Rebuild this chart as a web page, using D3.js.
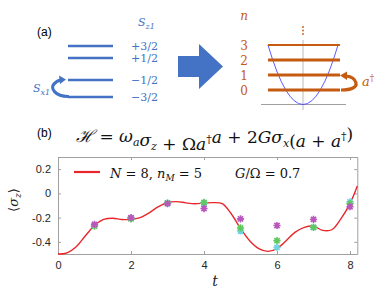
<!DOCTYPE html>
<html>
<head>
<meta charset="utf-8">
<script src="https://d3js.org/d3.v7.min.js"></script>
<style>
body, html { margin: 0; padding: 0; background: #fff; font-family: Arial, "Liberation Sans", sans-serif; }
.ax path, .ax line { stroke: #a0a0a0; stroke-width: 1; }
.ax text { fill: #262626; font-size: 11px; font-family: Arial, "Liberation Sans", sans-serif; }
.math { font-family: "DejaVu Serif", "Liberation Serif", serif; }
</style>
</head>
<body>
<div id="chart"></div>
<script>
// panel (b) data
var curveT = [0, 0.25, 0.5, 0.75, 1, 1.25, 1.5, 1.75, 2, 2.25, 2.5, 2.75, 3, 3.25, 3.5, 3.75, 4, 4.25, 4.5, 4.75, 5, 5.25, 5.5, 5.75, 6, 6.25, 6.5, 6.75, 7, 7.25, 7.5, 7.75, 8, 8.2];
var curveV = [-0.5, -0.49, -0.44, -0.35, -0.265, -0.215, -0.205, -0.215, -0.215, -0.2, -0.16, -0.11, -0.075, -0.068, -0.078, -0.085, -0.08, -0.076, -0.085, -0.17, -0.29, -0.39, -0.455, -0.478, -0.455, -0.39, -0.32, -0.28, -0.27, -0.305, -0.3, -0.21, -0.085, 0.06];
var markT = [1, 2, 3, 4, 5, 6, 7, 8];
var greenV = [-0.27, -0.21, -0.08, -0.075, -0.285, -0.39, -0.28, -0.085];
var cyanV = [-0.265, -0.205, -0.08, -0.08, -0.31, -0.445, -0.28, -0.07];
var magentaV = [-0.255, -0.2, -0.085, -0.125, -0.21, -0.265, -0.215, -0.11];
var xTicks = [0, 2, 4, 6, 8];
var yTicks = [-0.4, -0.2, 0, 0.2];

// panel (a) labels
var spinLevels = [1.5, 0.5, -0.5, -1.5];
var spinLabels = ["+3/2", "+1/2", "\u22121/2", "\u22123/2"];
var bosonLevels = [0, 1, 2, 3];

var width = 390, height = 299;
var svg = d3.select('#chart').append('svg')
  .attr('width', width)
  .attr('height', height);

var blue = '#4472c4', orange = '#c55a11';

// ---------- panel (a) ----------
svg.append('text').attr('x', 37).attr('y', 36).style('font-size', '12px').text('(a)');

var ySpin = d3.scaleLinear().domain([-1.5, -0.5, 0.5, 1.5]).range([97, 80, 58, 46]);
svg.selectAll('line.spin').data(spinLevels).enter().append('line')
  .attr('class', 'spin')
  .attr('x1', 68).attr('x2', 113)
  .attr('y1', function(d) { return ySpin(d); })
  .attr('y2', function(d) { return ySpin(d); })
  .attr('stroke', blue).attr('stroke-width', 2.3);
svg.selectAll('text.spin').data(spinLevels).enter().append('text')
  .attr('class', 'spin math')
  .attr('x', 131)
  .attr('y', function(d) { return ySpin(d) + 4; })
  .attr('fill', blue).style('font-size', '11px')
  .text(function(d, i) { return spinLabels[i]; });

var sz = svg.append('text').attr('class', 'math').attr('x', 138).attr('y', 26)
  .attr('fill', blue).style('font-size', '11px').style('font-style', 'italic');
sz.append('tspan').text('S');
sz.append('tspan').attr('dy', 3).style('font-size', '8px').text('z1');

var sx = svg.append('text').attr('class', 'math').attr('x', 33).attr('y', 92)
  .attr('fill', blue).style('font-size', '11px').style('font-style', 'italic');
sx.append('tspan').text('S');
sx.append('tspan').attr('dy', 3).style('font-size', '8px').text('x1');

// curved spin-flip arrow
svg.append('path').attr('d', 'M69,96.5 C55,97 50,88 54,84 C56,81.5 58,80.5 61,80')
  .attr('fill', 'none').attr('stroke', blue).attr('stroke-width', 3.2);
svg.append('path').attr('d', 'M66,79.5 L59,75.5 L60,84 Z').attr('fill', blue);

// big block arrow
svg.append('path').attr('d', 'M178,56 L199,56 L199,44 L223,66.5 L199,89 L199,77 L178,77 Z')
  .attr('fill', blue);

// boson ladder
var yLev = d3.scaleLinear().domain([0, 3]).range([90, 45]);
svg.append('line').attr('x1', 303).attr('x2', 303).attr('y1', 40).attr('y2', 110)
  .attr('stroke', '#aaa').attr('stroke-width', 0.8);
svg.append('line').attr('x1', 261).attr('x2', 346).attr('y1', 104.5).attr('y2', 104.5)
  .attr('stroke', '#888').attr('stroke-width', 0.8);
svg.append('path').attr('d', 'M268,45 Q303,164 338,45')
  .attr('fill', 'none').attr('stroke', '#4a4aff').attr('stroke-width', 0.9);
svg.selectAll('line.lev').data(bosonLevels).enter().append('line')
  .attr('class', 'lev')
  .attr('x1', 268).attr('x2', 340)
  .attr('y1', function(d) { return yLev(d); })
  .attr('y2', function(d) { return yLev(d); })
  .attr('stroke', orange).attr('stroke-width', function(d) { return d === 3 ? 2 : 2.8; });
svg.selectAll('text.lev').data(bosonLevels).enter().append('text')
  .attr('class', 'lev math')
  .attr('x', 244).attr('text-anchor', 'middle')
  .attr('y', function(d) { return yLev(d) + 4.5; })
  .attr('fill', orange).style('font-size', '12px')
  .text(function(d) { return d; });
svg.append('text').attr('class', 'math').attr('x', 244).attr('y', 20).attr('text-anchor', 'middle')
  .attr('fill', orange).style('font-size', '12px').style('font-style', 'italic').text('n');
svg.selectAll('circle.dots').data([0, 1, 2]).enter().append('circle')
  .attr('cx', 303).attr('cy', function(d) { return 27 + d * 3.5; }).attr('r', 0.9)
  .attr('fill', orange);

// a-dagger arrow
svg.append('path').attr('d', 'M341,90 C352,90 357,87 356,83 C355,79 351,76.5 346,76')
  .attr('fill', 'none').attr('stroke', orange).attr('stroke-width', 3.2);
svg.append('path').attr('d', 'M340,75.5 L347,71.5 L347,80 Z').attr('fill', orange);
var ad = svg.append('text').attr('class', 'math').attr('x', 362).attr('y', 86)
  .attr('fill', orange).style('font-size', '13px').style('font-style', 'italic');
ad.append('tspan').text('a');
ad.append('tspan').attr('dy', -5).style('font-size', '9px').style('font-style', 'normal').text('\u2020');

// ---------- panel (b) ----------
svg.append('text').attr('x', 37).attr('y', 137).style('font-size', '12px').text('(b)');

var title = svg.append('text').attr('class', 'math').attr('x', 76).attr('y', 142)
  .style('font-size', '17px').attr('fill', '#111');
function part(txt, it) { return title.append('tspan').style('font-style', it ? 'italic' : 'normal').text(txt); }
function sub(txt) { title.append('tspan').attr('dy', 4).style('font-size', '11px').style('font-style', 'italic').text(txt); title.append('tspan').attr('dy', -4).text(''); }
function sup(txt) { title.append('tspan').attr('dy', -7).style('font-size', '11px').text(txt); title.append('tspan').attr('dy', 7).text(''); }
part('\u210B', true); part(' = ', false); part('\u03C9', true); sub('a'); part('\u03C3', true); sub('z');
part(' + \u03A9', false); part('a', true); sup('\u2020'); part('a', true);
part(' + 2', false); part('G\u03C3', true); sub('x'); part('(', false); part('a', true);
part(' + ', false); part('a', true); sup('\u2020'); part(')', false);

var x = d3.scaleLinear().domain([0, 8.2]).range([58, 357.3]);
var y = d3.scaleLinear().domain([-0.5, 0.3]).range([254, 157]);

svg.append('g').attr('class', 'ax').attr('transform', 'translate(0,254)')
  .call(d3.axisBottom(x).tickValues(xTicks).tickSizeInner(-3).tickSizeOuter(0).tickPadding(7));
svg.append('g').attr('class', 'ax').attr('transform', 'translate(0,157)')
  .call(d3.axisTop(x).tickValues(xTicks).tickSizeInner(-3).tickSizeOuter(0).tickFormat(''));
svg.append('g').attr('class', 'ax').attr('transform', 'translate(58,0)')
  .call(d3.axisLeft(y).tickValues(yTicks).tickSizeInner(-3).tickSizeOuter(0).tickPadding(7)
    .tickFormat(function(d) { return d === 0 ? '0' : d3.format('.1f')(d).replace('\u2212', '-'); }));
svg.append('g').attr('class', 'ax').attr('transform', 'translate(357.3,0)')
  .call(d3.axisRight(y).tickValues(yTicks).tickSizeInner(-3).tickSizeOuter(0).tickFormat(''));

// curve
var line = d3.line()
  .x(function(d, i) { return x(curveT[i]); })
  .y(function(d) { return y(d); })
  .curve(d3.curveCatmullRom.alpha(0.5));
svg.append('path').datum(curveV).attr('d', line)
  .attr('fill', 'none').attr('stroke', '#e8262b').attr('stroke-width', 1.4);

// asterisk-like markers
function markers(vals, col) {
  var g = svg.append('g');
  var m = g.selectAll('g').data(vals).enter().append('g')
    .attr('transform', function(d, i) { return 'translate(' + x(markT[i]) + ',' + y(d) + ')'; });
  m.append('path')
    .attr('d', 'M-3.6,0L3.6,0M0,-3.6L0,3.6M-2.6,-2.6L2.6,2.6M-2.6,2.6L2.6,-2.6')
    .attr('stroke', col).attr('stroke-width', 1.6);
  m.append('circle').attr('r', 2.2).attr('fill', col);
}
markers(cyanV, '#6fd3e6');
markers(greenV, '#5fc95f');
markers(magentaV, '#b957bd');

// legend
svg.append('line').attr('x1', 74).attr('x2', 100).attr('y1', 172).attr('y2', 172)
  .attr('stroke', '#e8262b').attr('stroke-width', 2.2);
var lg = svg.append('text').attr('class', 'math').attr('x', 110).attr('y', 177.5)
  .style('font-size', '13px').attr('fill', '#111');
lg.append('tspan').style('font-style', 'italic').text('N');
lg.append('tspan').text(' = 8, ');
lg.append('tspan').style('font-style', 'italic').text('n');
lg.append('tspan').attr('dy', 3).style('font-size', '9px').style('font-style', 'italic').text('M');
lg.append('tspan').attr('dy', -3).text(' = 5');
var lg2 = svg.append('text').attr('class', 'math').attr('x', 235).attr('y', 177.5)
  .style('font-size', '13px').attr('fill', '#111');
lg2.append('tspan').style('font-style', 'italic').text('G');
lg2.append('tspan').text('/\u03A9 = 0.7');

// axis labels
var yl = svg.append('text').attr('class', 'math')
  .attr('transform', 'translate(18,200) rotate(-90)').attr('text-anchor', 'middle')
  .style('font-size', '13px').attr('fill', '#222');
yl.append('tspan').text('\u27E8');
yl.append('tspan').style('font-style', 'italic').text('\u03C3');
yl.append('tspan').attr('dy', 3).style('font-size', '9px').style('font-style', 'italic').text('z');
yl.append('tspan').attr('dy', -3).text('\u27E9');
svg.append('text').attr('class', 'math').attr('x', 215).attr('y', 286).attr('text-anchor', 'middle')
  .style('font-size', '14px').style('font-style', 'italic').attr('fill', '#222').text('t');
</script>
</body>
</html>
